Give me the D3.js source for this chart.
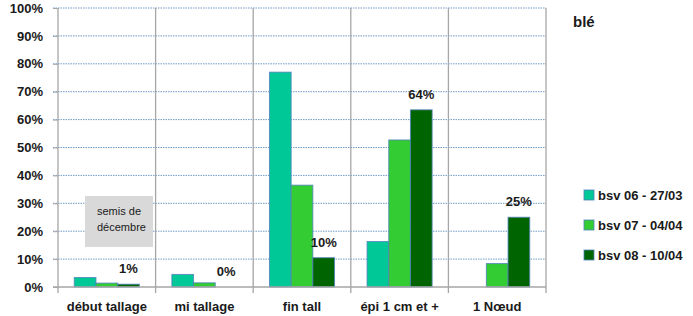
<!DOCTYPE html>
<html>
<head>
<meta charset="utf-8">
<script src="https://cdnjs.cloudflare.com/ajax/libs/d3/7.8.5/d3.min.js"></script>
<style>
  body { margin: 0; background: #fff; }
  text { font-family: "Liberation Sans", Arial, sans-serif; fill: #1a1a1a; }
</style>
</head>
<body>
<div id="chart"></div>
<script>
// stades du blé
var categories = ["début tallage", "mi tallage", "fin tall", "épi 1 cm et +", "1 Nœud"];
var seriesNames = ["bsv 06 - 27/03", "bsv 07 - 04/04", "bsv 08 - 10/04"];
var bsv06 = [3.4, 4.5, 77, 16.3, 0];
var bsv07 = [1.4, 1.5, 36.5, 52.7, 8.4];
var bsv08 = [1, 0, 10.5, 63.5, 25];
var labels08 = ["1%", "0%", "10%", "64%", "25%"];
var yTicks = [0, 10, 20, 30, 40, 50, 60, 70, 80, 90, 100];
var colors = ["#00c896", "#33cc33", "#006400"];

var width = 693, height = 316;
var margin = { top: 8, left: 58, right: 147, bottom: 29 };
var innerW = width - margin.left - margin.right,
    innerH = height - margin.top - margin.bottom;

var svg = d3.select("#chart").append("svg")
    .attr("width", width)
    .attr("height", height);

var g = svg.append("g")
    .attr("transform", "translate(" + margin.left + "," + margin.top + ")");

var x = d3.scaleBand().domain(categories).range([0, innerW]);
var xs = d3.scaleBand().domain([0, 1, 2])
    .range([0, x.bandwidth()]).paddingOuter(0.75).paddingInner(0);
var y = d3.scaleLinear().domain([0, 100]).range([innerH, 0]);

// grille pointillée
g.selectAll("line.grid").data(yTicks.slice(1)).enter().append("line")
    .attr("class", "grid")
    .attr("x1", -5).attr("x2", innerW)
    .attr("y1", function (d) { return y(d); })
    .attr("y2", function (d) { return y(d); })
    .attr("stroke", "#6f9cc9")
    .attr("stroke-width", 1)
    .attr("stroke-dasharray", "1.5,1");

// séparateurs de catégories
var seps = d3.range(categories.length + 1);
g.selectAll("line.sep").data(seps).enter().append("line")
    .attr("class", "sep")
    .attr("x1", function (i) { return i * x.step(); })
    .attr("x2", function (i) { return i * x.step(); })
    .attr("y1", 0).attr("y2", innerH + 6)
    .attr("stroke", "#a6a6a6")
    .attr("stroke-width", 1.3);

// axe y
var yAxis = g.append("g").call(d3.axisLeft(y).tickValues(yTicks)
    .tickFormat(function (d) { return d + "%"; }).tickSize(5).tickPadding(10));
yAxis.select(".domain").remove();
yAxis.selectAll(".tick line").attr("stroke", "#a6a6a6");
yAxis.selectAll("text")
    .style("font-size", "13px").style("font-weight", "bold")
    .attr("fill", "#1a1a1a");

// barres
var series = [bsv06, bsv07, bsv08];
series.forEach(function (vals, s) {
    g.selectAll("rect.s" + s).data(vals).enter().append("rect")
        .attr("class", "s" + s)
        .attr("x", function (d, i) { return x(categories[i]) + xs(s); })
        .attr("width", xs.bandwidth())
        .attr("y", function (d) { return y(d); })
        .attr("height", function (d) { return innerH - y(d); })
        .attr("fill", colors[s])
        .attr("stroke", "#4f81bd")
        .attr("stroke-width", function (d) { return d > 0 ? 1 : 0; })
        .attr("stroke-opacity", 0.8);
});

// axe x
g.append("line")
    .attr("x1", -5).attr("x2", innerW)
    .attr("y1", innerH).attr("y2", innerH)
    .attr("stroke", "#a6a6a6").attr("stroke-width", 1.3);

g.selectAll("text.cat").data(categories).enter().append("text")
    .attr("class", "cat")
    .attr("x", function (d) { return x(d) + x.bandwidth() / 2; })
    .attr("y", innerH + 24)
    .attr("text-anchor", "middle")
    .style("font-size", "13px").style("font-weight", "bold")
    .text(function (d) { return d; });

// étiquettes bsv 08
g.selectAll("text.lab").data(bsv08).enter().append("text")
    .attr("class", "lab")
    .attr("x", function (d, i) { return x(categories[i]) + xs(2) + xs.bandwidth() / 2; })
    .attr("y", function (d) { return y(d) - 11; })
    .attr("text-anchor", "middle")
    .style("font-size", "13px").style("font-weight", "bold")
    .text(function (d, i) { return labels08[i]; });

// encadré semis
var note = g.append("g").attr("transform", "translate(" + (85 - margin.left) + "," + (196 - margin.top) + ")");
note.append("rect").attr("width", 68).attr("height", 51).attr("fill", "#d9d9d9");
note.append("text").attr("x", 12).attr("y", 19).style("font-size", "11px").text("semis de");
note.append("text").attr("x", 12).attr("y", 35).style("font-size", "11px").text("décembre");

// titre
svg.append("text")
    .attr("x", 573).attr("y", 27)
    .style("font-size", "15px").style("font-weight", "bold")
    .text("blé");

// légende
var legend = svg.selectAll("g.leg").data(seriesNames).enter().append("g")
    .attr("class", "leg")
    .attr("transform", function (d, i) { return "translate(584," + (190 + i * 30) + ")"; });
legend.append("rect")
    .attr("width", 10).attr("height", 10)
    .attr("fill", function (d, i) { return colors[i]; })
    .attr("stroke", "#4f81bd").attr("stroke-opacity", 0.8);
legend.append("text")
    .attr("x", 14).attr("y", 10)
    .style("font-size", "13px").style("font-weight", "bold")
    .text(function (d) { return d; });
</script>
</body>
</html>
